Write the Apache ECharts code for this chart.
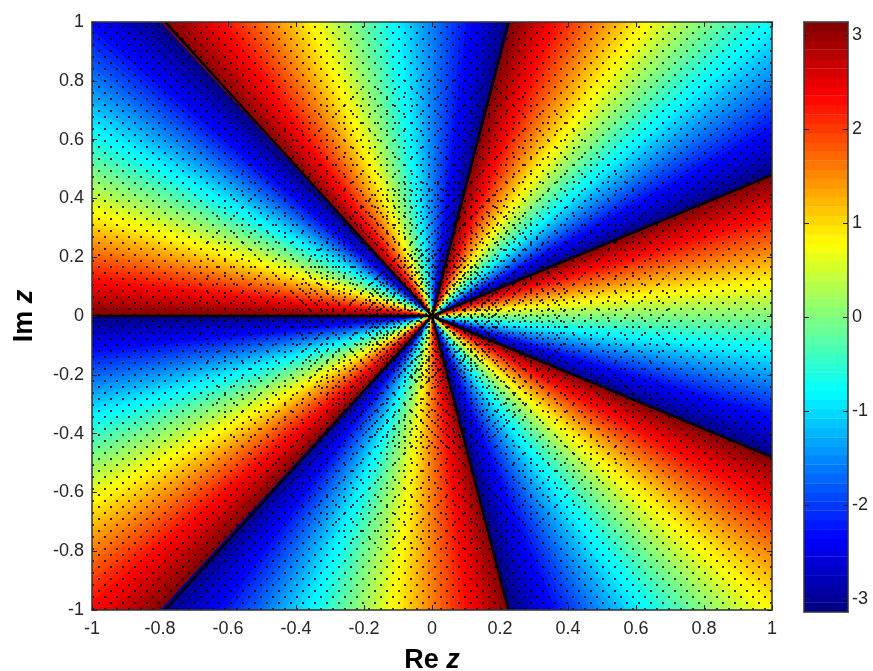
<!DOCTYPE html>
<html>
<head>
<meta charset="utf-8">
<title>Phase plot</title>
<script src="https://cdn.jsdelivr.net/npm/echarts@6/dist/echarts.min.js"></script>
<style>
  html, body { margin: 0; padding: 0; background: #fff; }
  #chart { width: 873px; height: 671px; }
</style>
</head>
<body>
<div id="chart"></div>
<script>
// phase levels of the colour bar, low to high (the picture has 64 bands)
const phaseLevels = [
  -3.09, -2.99, -2.90, -2.80, -2.70, -2.60, -2.50, -2.41, -2.31, -2.21, -2.11, -2.01, -1.91, -1.82, -1.72, -1.62,
  -1.52, -1.42, -1.33, -1.23, -1.13, -1.03, -0.93, -0.83, -0.74, -0.64, -0.54, -0.44, -0.34, -0.25, -0.15, -0.05,
  0.05, 0.15, 0.25, 0.34, 0.44, 0.54, 0.64, 0.74, 0.83, 0.93, 1.03, 1.13, 1.23, 1.33, 1.42, 1.52,
  1.62, 1.72, 1.82, 1.91, 2.01, 2.11, 2.21, 2.31, 2.41, 2.50, 2.60, 2.70, 2.80, 2.90, 2.99, 3.09
]
// angles (degrees) of the seven colour jumps, read where they leave the square
const cutAngles = [-180, -128.6, -77.1, -25.7, 25.7, 77.1, 128.6, 180]
// where the black jump lines end on the frame
const cutEnds = [[-1, 0], [-0.785, -1], [0.225, -1], [1, -0.48], [1, 0.48], [0.225, 1], [-0.785, 1]]
const axisTicks = [-1, -0.8, -0.6, -0.4, -0.2, 0, 0.2, 0.4, 0.6, 0.8, 1]
const barTicks = [-3, -2, -1, 0, 1, 2, 3]
const jetColors = ['#00007f', '#0000ff', '#007fff', '#00ffff', '#7fff7f', '#ffff00', '#ff7f00', '#ff0000', '#7f0000']
// the black sample dots are only a texture here, denser towards the centre
const dotZones = [{ radius: 0, tile: 12 }, { radius: 0.7, tile: 17 }, { radius: 0.4, tile: 11 }, { radius: 0.2, tile: 7 }]

const PHASE_MAX = 3.1416
const TEXT = '#262626'

function dotTile(size) {
  const c = document.createElement('canvas')
  c.width = size
  c.height = size
  const ctx = c.getContext('2d')
  ctx.fillStyle = 'rgba(0,0,0,0.8)'
  ctx.fillRect(Math.round(size * 0.2), Math.round(size * 0.2), 2, 2)
  ctx.fillRect(Math.round(size * 0.7), Math.round(size * 0.65), 2, 2)
  return { image: c, repeat: 'repeat' }
}

const wedgeData = []
for (let s = 0; s < cutAngles.length - 1; s++) {
  const step = (cutAngles[s + 1] - cutAngles[s]) / phaseLevels.length
  phaseLevels.forEach((p, i) => {
    wedgeData.push([cutAngles[s] + i * step, cutAngles[s] + (i + 1) * step, p])
  })
}

const halfBand = PHASE_MAX / phaseLevels.length
const barData = phaseLevels.map(p => [p - halfBand, p + halfBand, p])

function renderWedge(params, api) {
  const a0 = api.value(0) * Math.PI / 180
  const a1 = api.value(1) * Math.PI / 180
  const pts = [
    api.coord([0, 0]),
    api.coord([1.5 * Math.cos(a0), 1.5 * Math.sin(a0)]),
    api.coord([1.5 * Math.cos(a1), 1.5 * Math.sin(a1)])
  ]
  const color = api.visual('color')
  return { type: 'polygon', shape: { points: pts }, style: { fill: color, stroke: color, lineWidth: 1 } }
}

function renderBand(params, api) {
  const p0 = api.coord([0, api.value(1)])
  const p1 = api.coord([1, api.value(0)])
  return {
    type: 'rect',
    shape: { x: p0[0], y: p0[1], width: p1[0] - p0[0], height: p1[1] - p0[1] + 0.5 },
    style: { fill: api.visual('color') }
  }
}

function renderCut(params, api) {
  const a = api.coord([0, 0])
  const b = api.coord([api.value(0), api.value(1)])
  return {
    type: 'line',
    shape: { x1: a[0], y1: a[1], x2: b[0], y2: b[1] },
    style: { stroke: '#000', lineWidth: 2.5 }
  }
}

function renderDots(params, api) {
  const zone = dotZones[params.dataIndex]
  const fill = dotTile(zone.tile)
  if (zone.radius === 0) {
    const a = api.coord([-1, 1])
    const b = api.coord([1, -1])
    return { type: 'rect', shape: { x: a[0], y: a[1], width: b[0] - a[0], height: b[1] - a[1] }, style: { fill } }
  }
  const c = api.coord([0, 0])
  const r = api.coord([zone.radius, 0])[0] - c[0]
  return { type: 'circle', shape: { cx: c[0], cy: c[1], r }, style: { fill } }
}

function frameAxis(gridIndex, position, min, max, ticks) {
  return {
    type: 'value',
    gridIndex,
    position,
    min,
    max,
    z: 10,
    splitLine: { show: false },
    axisLine: { show: true, onZero: false, lineStyle: { color: '#333', width: 1.5 } },
    axisTick: { show: ticks.length > 0, inside: true, length: 5, customValues: ticks, lineStyle: { color: '#222' } },
    axisLabel: { show: false }
  }
}

function labelled(axis, ticks, margin) {
  axis.axisLabel = {
    show: true,
    customValues: ticks,
    color: TEXT,
    fontFamily: 'Liberation Sans',
    fontSize: 18,
    margin
  }
  return axis
}

const nameRich = {
  a: { fontFamily: 'Liberation Sans', fontSize: 27, fontWeight: 'bold', color: '#000' },
  b: { fontFamily: 'Liberation Sans', fontSize: 27, fontWeight: 'bold', fontStyle: 'italic', color: '#000' }
}

const chart = echarts.init(document.getElementById('chart'), null, { renderer: 'canvas' })

chart.setOption({
  animation: false,
  backgroundColor: '#fff',
  grid: [
    { left: 92, top: 22, width: 680, height: 588, outerBoundsMode: 'none' },
    { left: 804, top: 22, width: 44, height: 590, outerBoundsMode: 'none' }
  ],
  xAxis: [
    Object.assign(labelled(frameAxis(0, 'bottom', -1, 1, axisTicks), axisTicks, 10), {
      name: '{a|Re }{b|z}',
      nameLocation: 'middle',
      nameGap: 37,
      nameTextStyle: { rich: nameRich }
    }),
    frameAxis(0, 'top', -1, 1, axisTicks),
    frameAxis(1, 'bottom', 0, 1, []),
    frameAxis(1, 'top', 0, 1, [])
  ],
  yAxis: [
    Object.assign(labelled(frameAxis(0, 'left', -1, 1, axisTicks), axisTicks, 8), {
      name: '{a|Im }{b|z}',
      nameLocation: 'middle',
      nameGap: 54,
      nameTextStyle: { rich: nameRich }
    }),
    frameAxis(0, 'right', -1, 1, axisTicks),
    labelled(frameAxis(1, 'right', -PHASE_MAX, PHASE_MAX, barTicks), barTicks, 4),
    frameAxis(1, 'left', -PHASE_MAX, PHASE_MAX, barTicks)
  ],
  visualMap: {
    show: false,
    type: 'continuous',
    min: -PHASE_MAX,
    max: PHASE_MAX,
    dimension: 2,
    seriesIndex: [0, 3],
    inRange: { color: jetColors }
  },
  series: [
    { type: 'custom', name: 'phase', xAxisIndex: 0, yAxisIndex: 0, clip: true, z: 2, renderItem: renderWedge, data: wedgeData },
    { type: 'custom', name: 'dots', xAxisIndex: 0, yAxisIndex: 0, clip: true, z: 3, renderItem: renderDots, data: dotZones.map(z => [z.radius, z.tile]) },
    { type: 'custom', name: 'cuts', xAxisIndex: 0, yAxisIndex: 0, clip: true, z: 4, renderItem: renderCut, data: cutEnds },
    { type: 'custom', name: 'colorbar', xAxisIndex: 2, yAxisIndex: 2, clip: true, z: 2, renderItem: renderBand, data: barData }
  ]
})
</script>
</body>
</html>
